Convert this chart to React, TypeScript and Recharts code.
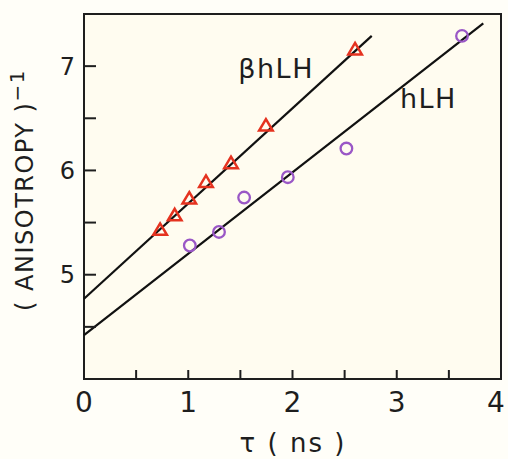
import React from "react";
import {
  ComposedChart, Line, Scatter, XAxis, YAxis, ReferenceArea, ReferenceDot,
} from "recharts";

// measured points, (tau in ns, 1/anisotropy)
const betaTau = [0.73, 0.87, 1.01, 1.17, 1.41, 1.745, 2.6];
const betaInv = [5.43, 5.57, 5.73, 5.89, 6.07, 6.43, 7.16];
const hTau = [1.015, 1.295, 1.536, 1.955, 2.517, 3.626];
const hInv = [5.28, 5.41, 5.74, 5.935, 6.21, 7.29];

// straight-line fits, end points
const betaFitTau = [0, 2.76];
const betaFitInv = [4.77, 7.29];
const hFitTau = [0, 3.83];
const hFitInv = [4.42, 7.41];

const xTicks = [0, 0.5, 1, 1.5, 2, 2.5, 3, 3.5, 4];
const yTicks = [4.5, 5, 5.5, 6, 6.5, 7];

const RED = "#e5321f";
const PURPLE = "#9a57c6";
const INK = "#1e1e1e";
const FONT = "'DejaVu Sans', sans-serif";

const zip = (xs: number[], ys: number[]) => xs.map((x, i) => ({ x, y: ys[i] }));

const betaPts = zip(betaTau, betaInv);
const hPts = zip(hTau, hInv);
const betaFit = zip(betaFitTau, betaFitInv);
const hFit = zip(hFitTau, hFitInv);

const Triangle = (p: any) => {
  const { cx, cy } = p;
  if (cx == null || cy == null) return null;
  return (
    <path
      d={`M${cx},${cy - 6.5} L${cx + 6.8},${cy + 5} L${cx - 6.8},${cy + 5} Z`}
      fill="none" stroke={RED} strokeWidth={2.5}
    />
  );
};

const Ring = (p: any) => {
  const { cx, cy } = p;
  if (cx == null || cy == null) return null;
  return <circle cx={cx} cy={cy} r={5.8} fill="none" stroke={PURPLE} strokeWidth={2.3} />;
};

const fmt = (v: number) => (Number.isInteger(v) ? String(v) : "");

// x tick labels; the last one sits a bit inside the frame like the original
const XTick = (p: any) => {
  const v = p.payload?.value;
  if (!Number.isInteger(v)) return null;
  const shift = v === 4 ? -5 : 0;
  return (
    <text x={p.x + shift} y={p.y} dy="0.71em" textAnchor="middle" fontFamily={FONT} fontSize={28} fill={INK}>
      {v}
    </text>
  );
};

const tagLabel = (text: string) => (props: any) => {
  const vb = props.viewBox || {};
  return (
    <text x={vb.x} y={vb.y} fontFamily={FONT} fontSize={27} letterSpacing={1.5} fill={INK}>
      {text}
    </text>
  );
};

const yTitle = () => (
  <text
    transform="translate(33,190) rotate(-90)"
    textAnchor="middle" fontFamily={FONT} fontSize={24} letterSpacing={1.5} fill={INK}
  >
    ( ANISOTROPY )
    <tspan dy={-9} fontSize={20}>−1</tspan>
  </text>
);

const xTitle = () => (
  <text x={293} y={452} textAnchor="middle" fontFamily={FONT} fontSize={26} letterSpacing={2} fill={INK}>
    τ ( ns )
  </text>
);

export default function App() {
  return (
    <div style={{ position: "absolute", left: 0, top: 0, width: 508, height: 459, background: "#fffef8" }}>
      <ComposedChart width={508} height={459} margin={{ top: 14, right: 7, bottom: 0, left: 0 }}>
        <ReferenceArea x1={0} x2={4} y1={4} y2={7.5} fill="#fffcf0" fillOpacity={1} stroke={INK} strokeWidth={2} ifOverflow="visible" />
        <XAxis
          dataKey="x" type="number" domain={[0, 4]} ticks={xTicks}
          height={80} axisLine={false} tickSize={-9} tickMargin={22}
          tickLine={{ stroke: INK, strokeWidth: 2 }}
          tick={XTick}
          label={xTitle}
        />
        <YAxis
          dataKey="y" type="number" domain={[4, 7.5]} ticks={yTicks} tickFormatter={fmt}
          width={84} axisLine={false} tickSize={-12} tickMargin={21}
          tickLine={{ stroke: INK, strokeWidth: 2 }}
          tick={{ fontFamily: FONT, fontSize: 24, fill: INK }}
          label={yTitle}
        />
        <Line data={betaFit} dataKey="y" type="linear" stroke="#111" strokeWidth={2.2} dot={false} isAnimationActive={false} />
        <Line data={hFit} dataKey="y" type="linear" stroke="#111" strokeWidth={2.2} dot={false} isAnimationActive={false} />
        <Scatter data={betaPts} dataKey="y" shape={Triangle} isAnimationActive={false} />
        <Scatter data={hPts} dataKey="y" shape={Ring} isAnimationActive={false} />
        <ReferenceDot x={1.48} y={6.89} r={0} fill="none" stroke="none" label={tagLabel("βhLH")} />
        <ReferenceDot x={3.03} y={6.6} r={0} fill="none" stroke="none" label={tagLabel("hLH")} />
      </ComposedChart>
    </div>
  );
}
